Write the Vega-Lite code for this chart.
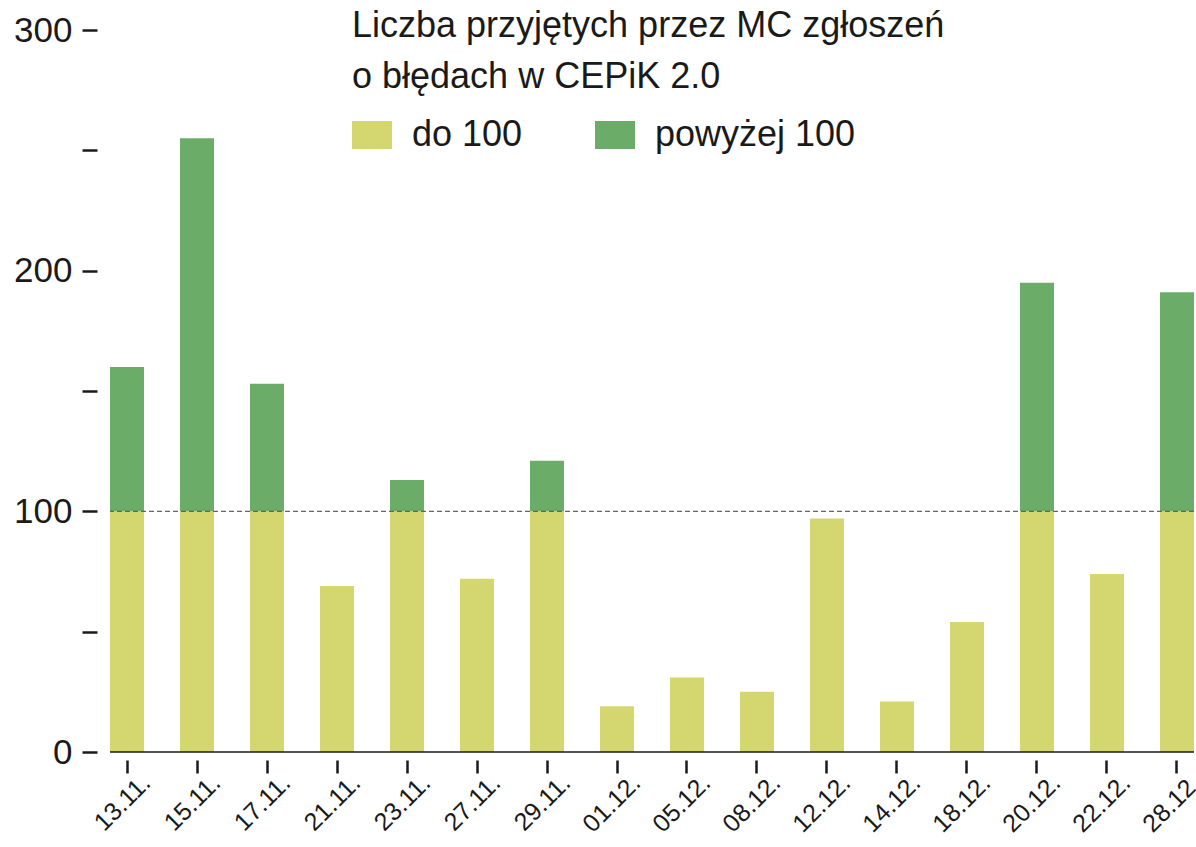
{
  "$schema": "https://vega.github.io/schema/vega-lite/v6.json",
  "autosize": {"type": "none"},
  "padding": {"left": 110, "top": 30, "right": 2, "bottom": 95},
  "width": 1084,
  "height": 722,
  "background": "white",
  "config": {
    "view": {"stroke": null},
    "font": "Liberation Sans",
    "axis": {"labelFont": "Liberation Sans", "labelColor": "#1a1a1a", "tickColor": "#1a1a1a", "grid": false, "title": null}
  },
  "datasets": {
    "bars": [
      {"date": "13.11.", "kat": "do 100", "n": 100}, {"date": "13.11.", "kat": "powyżej 100", "n": 60},
      {"date": "15.11.", "kat": "do 100", "n": 100}, {"date": "15.11.", "kat": "powyżej 100", "n": 155},
      {"date": "17.11.", "kat": "do 100", "n": 100}, {"date": "17.11.", "kat": "powyżej 100", "n": 53},
      {"date": "21.11.", "kat": "do 100", "n": 69},
      {"date": "23.11.", "kat": "do 100", "n": 100}, {"date": "23.11.", "kat": "powyżej 100", "n": 13},
      {"date": "27.11.", "kat": "do 100", "n": 72},
      {"date": "29.11.", "kat": "do 100", "n": 100}, {"date": "29.11.", "kat": "powyżej 100", "n": 21},
      {"date": "01.12.", "kat": "do 100", "n": 19},
      {"date": "05.12.", "kat": "do 100", "n": 31},
      {"date": "08.12.", "kat": "do 100", "n": 25},
      {"date": "12.12.", "kat": "do 100", "n": 97},
      {"date": "14.12.", "kat": "do 100", "n": 21},
      {"date": "18.12.", "kat": "do 100", "n": 54},
      {"date": "20.12.", "kat": "do 100", "n": 100}, {"date": "20.12.", "kat": "powyżej 100", "n": 95},
      {"date": "22.12.", "kat": "do 100", "n": 74},
      {"date": "28.12.", "kat": "do 100", "n": 100}, {"date": "28.12.", "kat": "powyżej 100", "n": 91}
    ]
  },
  "layer": [
    {
      "data": {"name": "bars"},
      "mark": {"type": "bar"},
      "encoding": {
        "x": {
          "field": "date", "type": "ordinal", "sort": null,
          "scale": {"paddingInner": 0.514, "paddingOuter": 0},
          "axis": {"offset": 8, "domain": false, "tickSize": 13, "tickWidth": 2.5, "labelAngle": -45, "labelAlign": "right", "labelBaseline": "alphabetic", "labelFontSize": 25, "labelPadding": 11, "labelOffset": 25, "labelLimit": 0, "labelOverlap": false, "labelBound": false}
        },
        "y": {
          "field": "n", "type": "quantitative", "stack": "zero",
          "scale": {"domain": [0, 300], "nice": false},
          "axis": {"offset": 13, "domain": false, "values": [0, 50, 100, 150, 200, 250, 300], "labelExpr": "datum.value % 100 === 0 ? datum.label : ''", "tickSize": 15, "tickWidth": 2.5, "labelFontSize": 35, "labelPadding": 10}
        },
        "order": {"field": "kat", "sort": "ascending"},
        "color": {
          "field": "kat", "type": "nominal",
          "scale": {"domain": ["do 100", "powyżej 100"], "range": ["#d4d770", "#6aac68"]},
          "legend": {
            "orient": "none", "legendX": 242, "legendY": -21, "direction": "horizontal",
            "title": ["Liczba przyjętych przez MC zgłoszeń", "o błędach w CEPiK 2.0"],
            "titleFontSize": 36, "titleLineHeight": 51, "titleFontWeight": "normal", "titleColor": "#1a1a1a", "titlePadding": 19, "titleLimit": 0,
            "labelFontSize": 36, "labelColor": "#1a1a1a", "labelOffset": 20, "columnPadding": 72, "labelLimit": 0,
            "symbolType": "M-1,-0.7H1V0.7H-1Z", "symbolSize": 1600, "symbolStrokeWidth": 0, "symbolOpacity": 1
          }
        }
      }
    },
    {
      "data": {"values": [{"v": 100}]},
      "mark": {"type": "rule", "color": "#666666", "strokeWidth": 1.4, "strokeDash": [5, 3]},
      "encoding": {"y": {"field": "v", "type": "quantitative"}}
    },
    {
      "data": {"values": [{"v": 0}]},
      "mark": {"type": "rule", "color": "#1a1a1a", "strokeWidth": 1.5},
      "encoding": {"y": {"field": "v", "type": "quantitative"}}
    }
  ]
}
